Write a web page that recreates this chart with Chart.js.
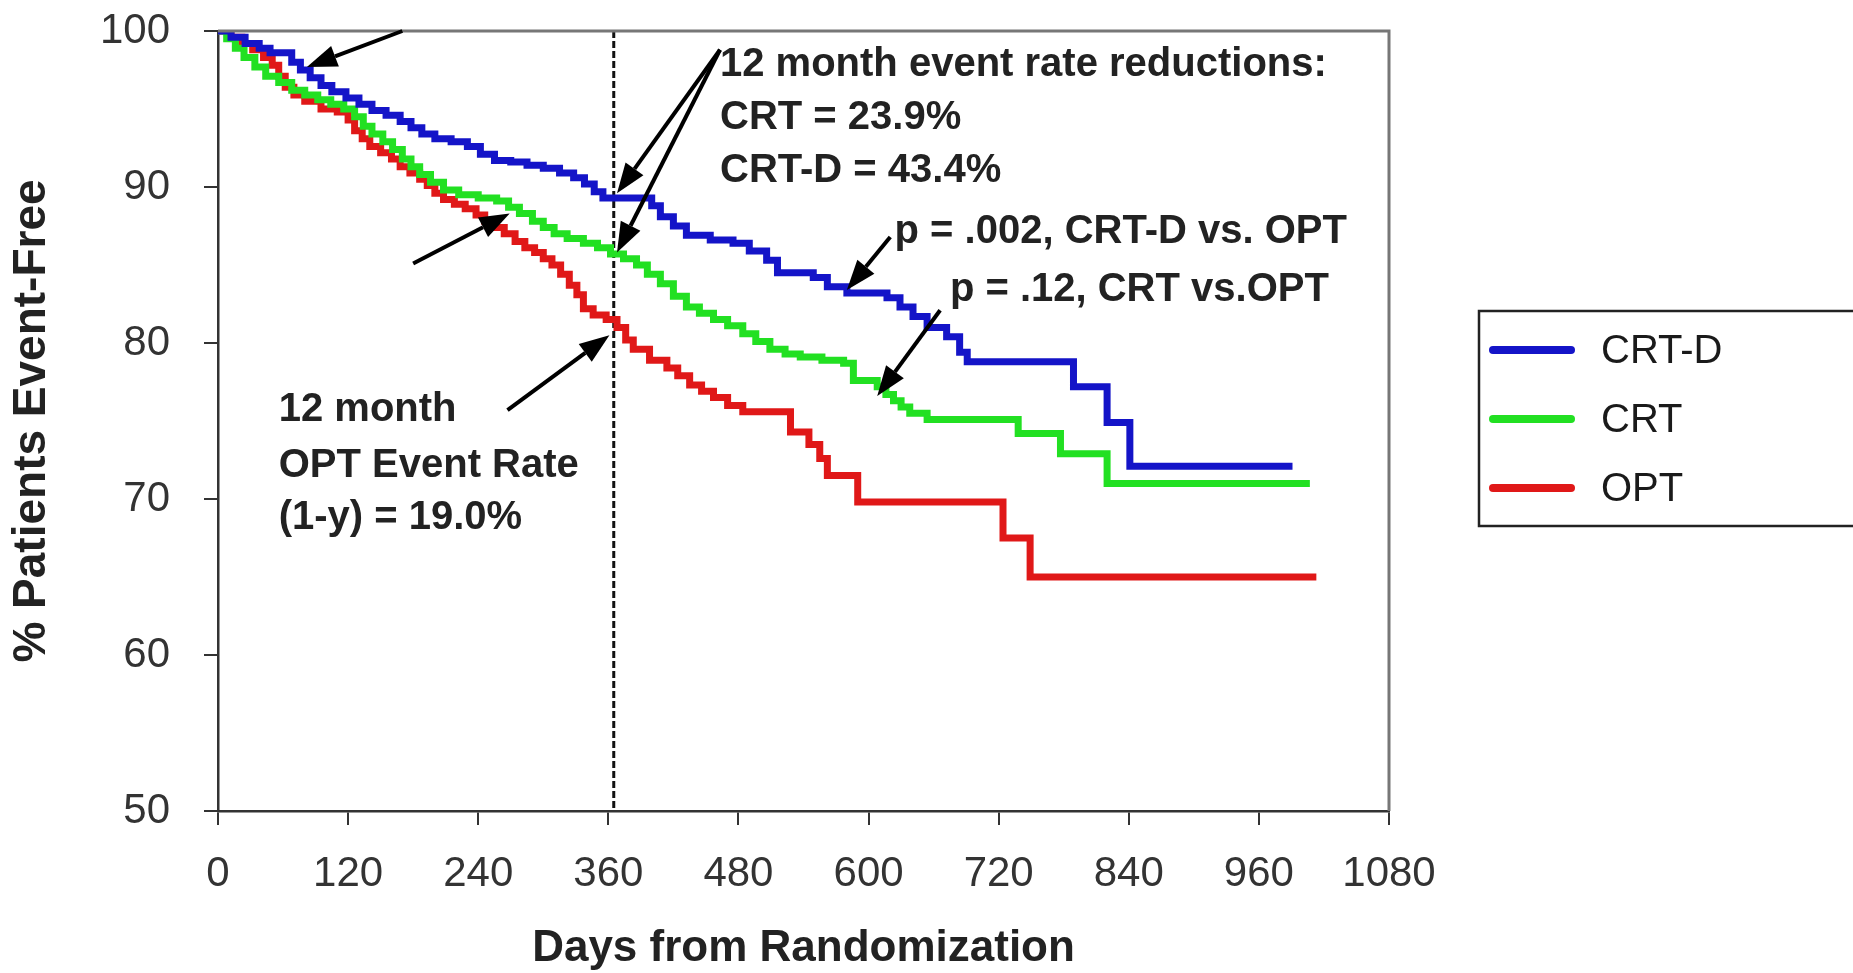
<!DOCTYPE html>
<html>
<head>
<meta charset="utf-8">
<script src="https://cdn.jsdelivr.net/npm/chart.js@4.4.1/dist/chart.umd.min.js"></script>
<style>
  html, body { margin: 0; padding: 0; background: #fff; }
  #wrap { width: 1853px; height: 973px; }
</style>
</head>
<body>
<div id="wrap"><canvas id="kmChart" width="1853" height="973"></canvas></div>
<script>
// Kaplan-Meier event-free survival, [day, % event-free] at each drop
const crtD = [
  [0,100],[12,99.6],[25,99.2],[38,98.9],[48,98.6],[68,98.0],[76,97.5],[85,97.0],[95,96.5],
  [105,96.1],[118,95.7],[130,95.3],[142,94.9],[155,94.6],[168,94.2],[178,93.8],[188,93.4],
  [200,93.1],[215,92.9],[230,92.6],[242,92.1],[255,91.7],[270,91.6],[285,91.4],[300,91.2],
  [315,90.9],[328,90.6],[338,90.2],[347,89.7],[355,89.3],[400,88.8],[408,88.1],[420,87.5],
  [432,86.9],[454,86.6],[475,86.4],[490,85.9],[506,85.3],[516,84.5],[549,84.2],[562,83.6],
  [580,83.2],[617,82.9],[629,82.3],[641,81.7],[654,81.0],[672,80.4],[684,79.4],[691,78.8],
  [789,77.2],[820,74.9],[841,72.1],[991,72.1]
];
const crt = [
  [0,100],[8,99.5],[16,98.9],[24,98.3],[34,97.7],[44,97.1],[56,96.7],[68,96.2],[80,95.9],
  [92,95.6],[104,95.3],[116,95.0],[126,94.5],[134,93.9],[142,93.4],[152,92.9],[161,92.4],
  [170,91.8],[178,91.3],[186,90.8],[196,90.3],[208,89.8],[222,89.5],[240,89.3],[257,89.1],
  [268,88.7],[278,88.3],[290,87.8],[300,87.4],[310,87.0],[322,86.7],[337,86.4],[350,86.1],
  [362,85.7],[374,85.4],[386,85.0],[396,84.4],[408,83.8],[420,83.0],[432,82.3],[444,81.9],
  [457,81.5],[470,81.1],[484,80.6],[496,80.1],[509,79.6],[523,79.3],[537,79.1],[557,78.9],
  [577,78.7],[586,77.6],[608,77.2],[616,76.7],[623,76.3],[630,75.9],[638,75.5],[654,75.1],
  [738,74.2],[777,72.9],[820,71.0],[1007,71.0]
];
const opt = [
  [0,100],[12,99.6],[22,99.2],[32,98.8],[42,98.3],[50,97.8],[56,97.1],[62,96.4],[70,95.9],
  [80,95.5],[95,95.0],[110,94.8],[120,94.3],[126,93.6],[133,93.1],[140,92.6],[150,92.2],
  [160,91.8],[168,91.3],[177,90.9],[186,90.5],[193,90.1],[200,89.6],[208,89.2],[218,88.9],
  [228,88.6],[238,88.2],[246,87.8],[255,87.4],[264,87.0],[274,86.5],[283,86.1],[292,85.8],
  [300,85.4],[308,85.0],[316,84.4],[324,83.7],[331,83.1],[337,82.2],[346,81.8],[358,81.5],
  [368,81.0],[376,80.2],[383,79.6],[398,78.9],[414,78.4],[424,77.9],[435,77.3],[446,76.9],
  [457,76.5],[470,76.0],[484,75.6],[528,74.3],[545,73.5],[555,72.6],[562,71.5],[590,69.8],
  [724,67.5],[749,65.0],[1013,65.0]
];

const seriesNames = ['CRT-D', 'CRT', 'OPT'];
const seriesColors = ['#1414c8', '#22e022', '#e01818'];
const xTicks = [0, 120, 240, 360, 480, 600, 720, 840, 960, 1080];
const yTicks = [50, 60, 70, 80, 90, 100];
const twelveMonthDay = 365;

// annotation text, anchored at [day, %]
const notes = [
  ['12 month event rate reductions:', 463, 97.8],
  ['CRT = 23.9%', 463, 94.4],
  ['CRT-D = 43.4%', 463, 91.0],
  ['p = .002, CRT-D vs. OPT', 624, 87.1],
  ['p = .12, CRT vs.OPT', 675, 83.4],
  ['12 month', 56, 75.7],
  ['OPT Event Rate', 56, 72.1],
  ['(1-y) = 19.0%', 56, 68.8]
];
// arrows: tail [day, %] -> tip [day, %]
const arrows = [
  [[170, 100], [82, 97.7]],
  [[180, 85.1], [269, 88.3]],
  [[267, 75.7], [361, 80.5]],
  [[463, 98.8], [368, 89.6]],
  [[463, 98.8], [368, 85.8]],
  [[620, 86.8], [580, 83.4]],
  [[666, 82.1], [608, 76.6]]
];

const FONT = "'Liberation Sans', Arial, sans-serif";

function drawArrow(ctx, x1, y1, x2, y2) {
  const ang = Math.atan2(y2 - y1, x2 - x1);
  const headLen = 30, headW = 11;
  const bx = x2 - headLen * Math.cos(ang), by = y2 - headLen * Math.sin(ang);
  ctx.beginPath();
  ctx.moveTo(x1, y1);
  ctx.lineTo(bx, by);
  ctx.stroke();
  ctx.beginPath();
  ctx.moveTo(x2, y2);
  ctx.lineTo(bx + headW * Math.sin(ang), by - headW * Math.cos(ang));
  ctx.lineTo(bx - headW * Math.sin(ang), by + headW * Math.cos(ang));
  ctx.closePath();
  ctx.fill();
}

const annotations = {
  id: 'annotations',
  beforeDatasetsDraw(chart) {
    const { ctx, chartArea: a, scales: { x } } = chart;
    // 12 month marker
    const px = x.getPixelForValue(twelveMonthDay);
    ctx.save();
    ctx.strokeStyle = '#111';
    ctx.lineWidth = 3;
    ctx.setLineDash([7, 3]);
    ctx.beginPath();
    ctx.moveTo(px, a.top);
    ctx.lineTo(px, a.bottom);
    ctx.stroke();
    ctx.restore();
  },
  afterDatasetsDraw(chart) {
    const { ctx, chartArea: a, scales: { x, y } } = chart;
    ctx.save();
    // top and right edges of the plot frame
    ctx.strokeStyle = '#777';
    ctx.lineWidth = 3;
    ctx.beginPath();
    ctx.moveTo(a.left, a.top);
    ctx.lineTo(a.right, a.top);
    ctx.lineTo(a.right, a.bottom);
    ctx.stroke();

    ctx.fillStyle = '#222';
    ctx.font = 'bold 40px ' + FONT;
    ctx.textAlign = 'left';
    ctx.textBaseline = 'middle';
    notes.forEach(([t, d, v]) => ctx.fillText(t, x.getPixelForValue(d), y.getPixelForValue(v)));

    ctx.strokeStyle = '#000';
    ctx.fillStyle = '#000';
    ctx.lineWidth = 4;
    arrows.forEach(([f, t]) => drawArrow(ctx,
      x.getPixelForValue(f[0]), y.getPixelForValue(f[1]),
      x.getPixelForValue(t[0]), y.getPixelForValue(t[1])));

    // legend box
    const lx = a.right + 90, ly = 311, lh = 215;
    ctx.strokeStyle = '#222';
    ctx.lineWidth = 2.5;
    ctx.strokeRect(lx, ly, chart.width - lx + 10, lh);
    ctx.font = '40px ' + FONT;
    chart.data.datasets.forEach((ds, i) => {
      const cy = ly + 39 + i * 69;
      ctx.strokeStyle = ds.borderColor;
      ctx.lineWidth = 8;
      ctx.lineCap = 'round';
      ctx.beginPath();
      ctx.moveTo(lx + 14, cy);
      ctx.lineTo(lx + 92, cy);
      ctx.stroke();
      ctx.fillStyle = '#1a1a1a';
      ctx.fillText(ds.label, lx + 122, cy + 2);
    });
    ctx.restore();
  }
};

const toPoints = arr => arr.map(([d, v]) => ({ x: d, y: v }));

new Chart(document.getElementById('kmChart'), {
  type: 'line',
  data: {
    datasets: [crtD, crt, opt].map((s, i) => ({
      label: seriesNames[i],
      data: toPoints(s),
      borderColor: seriesColors[i],
      borderWidth: 7,
      stepped: true,
      pointRadius: 0,
      fill: false
    }))
  },
  options: {
    responsive: false,
    animation: false,
    layout: { padding: { top: 31, left: 0, right: 464, bottom: 0 } },
    plugins: { legend: { display: false }, tooltip: { enabled: false } },
    scales: {
      x: {
        type: 'linear',
        min: 0, max: 1080,
        afterBuildTicks: s => { s.ticks = xTicks.map(v => ({ value: v })); },
        afterFit: s => { s.height = 162; s.paddingLeft = 0; s.paddingRight = 0; },
        ticks: { font: { family: FONT, size: 42 }, color: '#333', padding: 24, maxRotation: 0, autoSkip: false,
                 callback: v => String(v) },
        grid: { drawOnChartArea: false, tickLength: 14, color: '#333', lineWidth: 2 },
        border: { color: '#333', width: 2.5 },
        title: { display: true, text: 'Days from Randomization', color: '#222',
                 font: { family: FONT, size: 44, weight: 'bold', lineHeight: 1.1 }, padding: 0 }
      },
      y: {
        min: 50, max: 100,
        afterBuildTicks: s => { s.ticks = yTicks.map(v => ({ value: v })); },
        afterFit: s => { s.width = 218; s.paddingTop = 0; s.paddingBottom = 0; },
        ticks: { font: { family: FONT, size: 42 }, color: '#333', padding: 34, callback: v => String(v) },
        grid: { drawOnChartArea: false, tickLength: 14, color: '#333', lineWidth: 2 },
        border: { color: '#333', width: 2.5 },
        title: { display: true, text: '% Patients Event-Free', color: '#222',
                 font: { family: FONT, size: 46, weight: 'bold', lineHeight: 1.2 }, padding: { top: 5, bottom: 0 } }
      }
    }
  },
  plugins: [annotations]
});
</script>
</body>
</html>
